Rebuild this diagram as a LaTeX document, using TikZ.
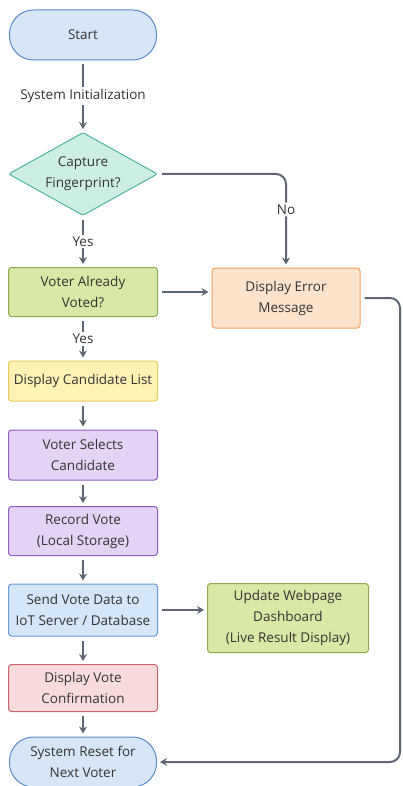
\documentclass[tikz,border=0pt]{standalone}
\usepackage{fontspec}
\setmainfont{Open Sans}
\usetikzlibrary{arrows.meta}
\usetikzlibrary{shapes.geometric}
\usetikzlibrary{positioning}
\definecolor{linegray}{HTML}{5F6673}
\definecolor{termfill}{HTML}{D6E6F7}
\definecolor{termline}{HTML}{5B8BC7}
\definecolor{decfill}{HTML}{CDEEE3}
\definecolor{decline}{HTML}{4DB6A0}
\definecolor{olivefill}{HTML}{D9E8A6}
\definecolor{oliveline}{HTML}{8DAA50}
\definecolor{yellowfill}{HTML}{FFF2B5}
\definecolor{yellowline}{HTML}{E8C95A}
\definecolor{purplefill}{HTML}{E4D3F4}
\definecolor{purpleline}{HTML}{8E5CC0}
\definecolor{bluefill}{HTML}{D4E6F8}
\definecolor{blueline}{HTML}{6A9BD4}
\definecolor{redfill}{HTML}{F8DCDD}
\definecolor{redline}{HTML}{C9646A}
\definecolor{orangefill}{HTML}{FDE3CC}
\definecolor{orangeline}{HTML}{F2A261}
\tikzset{box/.style = {draw, rounded corners=3, line width=1, minimum width=149,
                       minimum height=50, align=center, inner sep=2, text=black!80,
                       font=\fontsize{13.5}{21}\selectfont}}
\tikzset{term/.style = {box, rounded corners=24, minimum width=147}}
\tikzset{decide/.style = {box, diamond, rounded corners=2, aspect=1.8,
                          minimum width=149, minimum height=83, inner sep=0}}
\tikzset{flow/.style = {draw=linegray, line width=2, shorten >=3, shorten <=4,
                        -{Stealth[length=7pt,width=8pt]}}}
\tikzset{lbl/.style = {fill=white, inner sep=2, text=black!80,
                       font=\fontsize{13.5}{16}\selectfont}}

\begin{document}
\begin{tikzpicture}[x=1pt, y=-1pt]
      \useasboundingbox (0, 0) rectangle (402, 786);

      \node [term, fill=termfill, draw=termline] (start) at (83, 35) {Start};
      \node [decide, fill=decfill, draw=decline] (capture) at (83, 174) {Capture\\Fingerprint?};
      \node [box, fill=olivefill, draw=oliveline, minimum height=49] (voted) at (83, 292) {Voter Already\\Voted?};
      \node [box, fill=yellowfill, draw=yellowline, minimum height=40] (list) at (83, 381) {Display Candidate List};
      \node [box, fill=purplefill, draw=purpleline] (select) at (83, 455) {Voter Selects\\Candidate};
      \node [box, fill=purplefill, draw=purpleline, minimum height=49] (record) at (83, 531) {Record Vote\\(Local Storage)};
      \node [box, fill=bluefill, draw=blueline, minimum height=52] (send) at (83, 610) {Send Vote Data to\\IoT Server / Database};
      \node [box, fill=redfill, draw=redline, minimum height=47] (confirm) at (83, 688) {Display Vote\\Confirmation};
      \node [term, fill=termfill, draw=termline] (reset) at (83, 762) {System Reset for\\Next Voter};

      \node [box, fill=orangefill, draw=orangeline, minimum width=148, minimum height=60] (error) at (286, 298) {Display Error\\Message};
      \node [box, fill=olivefill, draw=oliveline, minimum width=161, minimum height=69] (update) at (288, 618) {Update Webpage\\Dashboard\\(Live Result Display)};

      \coordinate (loop) at (400, 0);

      \draw [flow] (start) -- (capture) node [lbl, midway] {System Initialization};
      \draw [flow] (capture) -- (voted) node [lbl, midway] {Yes};
      \draw [flow] (voted) -- (list) node [lbl, midway] {Yes};
      \draw [flow] (list) -- (select);
      \draw [flow] (select) -- (record);
      \draw [flow] (record) -- (send);
      \draw [flow] (send) -- (confirm);
      \draw [flow] (confirm) -- (reset);

      \draw [flow, rounded corners=10] (capture.east) -| (error.north) node [lbl, pos=0.69] {No};
      \draw [flow] (voted.east) -- (voted.east -| error.west);
      \draw [flow] (send.east) -- (send.east -| update.west);
      \draw [flow, rounded corners=10] (error.east) -- (error.east -| loop)
            -- (loop |- reset.east) -- (reset.east);
    \end{tikzpicture}
\end{document}
